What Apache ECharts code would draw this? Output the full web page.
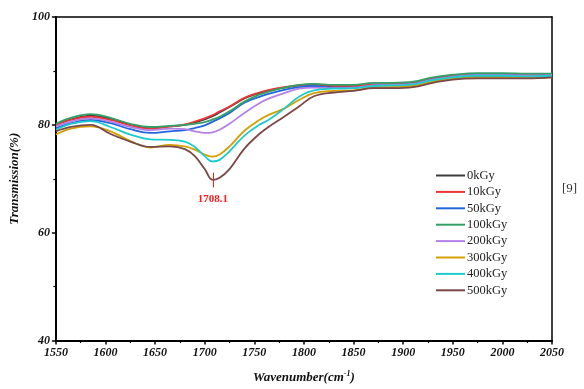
<!DOCTYPE html>
<html>
<head>
<meta charset="utf-8">
<script src="https://cdn.jsdelivr.net/npm/echarts@6/dist/echarts.min.js"></script>
<style>
  html, body { margin: 0; padding: 0; background: #fff; }
  #chart { width: 584px; height: 389px; }
</style>
</head>
<body>
<div id="chart"></div>
<script>
// wavenumber sampling points (cm-1)
const wavenumbers = [1550, 1565, 1585, 1605, 1625, 1645, 1665, 1680, 1690, 1700, 1708, 1715, 1725, 1740, 1755, 1765, 1780, 1795, 1810, 1830, 1850, 1870, 1890, 1910, 1930, 1950, 1975, 2000, 2025, 2050];

const doseNames = ['0kGy', '10kGy', '50kGy', '100kGy', '200kGy', '300kGy', '400kGy', '500kGy'];
const doseColors = ['#3c3c3c', '#ee3535', '#2266dd', '#33a066', '#b481e6', '#d49f00', '#1ccccc', '#7a4848'];

// transmission (%) per dose
const t0 = [80.0, 81.0, 81.7, 81.1, 80.0, 79.4, 79.7, 80.0, 80.4, 81.0, 81.6, 82.3, 83.3, 84.9, 85.9, 86.4, 86.9, 87.3, 87.5, 87.1, 87.1, 87.3, 87.3, 87.6, 88.4, 88.9, 89.1, 89.1, 89.0, 89.1];
const t10 = [80.0, 80.9, 81.5, 80.9, 79.9, 79.3, 79.7, 80.1, 80.6, 81.2, 81.8, 82.5, 83.4, 85.0, 86.0, 86.5, 87.0, 87.3, 87.5, 87.2, 87.2, 87.5, 87.6, 87.8, 88.6, 89.1, 89.3, 89.3, 89.2, 89.3];
const t50 = [79.4, 80.3, 80.9, 80.3, 79.2, 78.5, 78.8, 79.0, 79.4, 79.9, 80.6, 81.2, 82.2, 84.1, 85.2, 85.8, 86.5, 87.0, 87.2, 86.9, 86.9, 87.3, 87.4, 87.6, 88.4, 88.9, 89.2, 89.2, 89.1, 89.2];
const t100 = [80.2, 81.3, 82.0, 81.3, 80.2, 79.6, 79.8, 80.0, 80.2, 80.5, 81.0, 81.5, 82.5, 84.3, 85.6, 86.2, 86.9, 87.4, 87.6, 87.4, 87.4, 87.8, 87.8, 88.0, 88.8, 89.3, 89.6, 89.6, 89.5, 89.5];
const t200 = [79.7, 80.6, 81.2, 80.6, 79.6, 79.0, 79.3, 79.2, 78.8, 78.5, 78.6, 79.1, 80.2, 82.2, 84.0, 84.9, 85.9, 86.7, 86.9, 86.8, 86.9, 87.3, 87.4, 87.6, 88.4, 88.9, 89.2, 89.2, 89.1, 89.2];
const t300 = [78.2, 79.3, 79.7, 78.8, 77.0, 75.8, 76.3, 76.0, 75.4, 74.5, 74.1, 74.5, 76.0, 78.9, 80.9, 81.9, 83.0, 84.6, 85.9, 86.3, 86.4, 86.9, 87.0, 87.2, 88.0, 88.6, 88.8, 88.8, 88.7, 88.8];
const t400 = [79.1, 80.2, 80.7, 79.6, 78.2, 77.3, 77.2, 76.9, 75.9, 74.2, 73.2, 73.5, 75.1, 78.0, 80.0, 81.0, 83.0, 85.2, 86.4, 86.7, 86.8, 87.2, 87.3, 87.5, 88.3, 88.8, 89.1, 89.1, 89.0, 89.1];
const t500 = [78.8, 79.6, 80.0, 78.3, 76.9, 75.9, 76.0, 75.5, 74.2, 71.8, 69.8, 70.2, 71.8, 75.6, 78.3, 79.7, 81.5, 83.4, 85.3, 86.0, 86.3, 86.8, 86.8, 87.0, 87.8, 88.4, 88.6, 88.6, 88.6, 88.8];
const doseSeries = [t0, t10, t50, t100, t200, t300, t400, t500];

// axis ticks
const xMin = 1550, xMax = 2050, xStep = 50;
const yMin = 40, yMax = 100, yStep = 20;

// annotated peak
const peakWavenumber = 1708.1;
const peakLabel = '1708.1';

const serif = '"Liberation Serif", "Times New Roman", serif';

let chart = echarts.init(document.getElementById('chart'), null, { renderer: 'canvas' });

let series = doseSeries.map((vals, i) => {
    let s = {
        name: doseNames[i],
        type: 'line',
        data: wavenumbers.map((w, j) => [w, vals[j]]),
        smooth: 0.4,
        showSymbol: false,
        lineStyle: { width: 1.8, color: doseColors[i] },
        itemStyle: { color: doseColors[i] },
        z: 2
    };
    if (i === 7) {
        s.markLine = {
            silent: true,
            symbol: 'none',
            animation: false,
            lineStyle: { color: '#ff1a1a', width: 1, type: 'solid' },
            label: {
                show: true,
                position: 'end',
                formatter: peakLabel,
                color: '#ff1a1a',
                fontFamily: serif,
                fontWeight: 'bold',
                fontSize: 11,
                distance: 6
            },
            data: [[{ coord: [peakWavenumber, 71.1] }, { coord: [peakWavenumber, 68.4] }]]
        };
    }
    return s;
});

chart.setOption({
    animation: false,
    grid: { left: 54, right: 32, top: 17, bottom: 43 },
    legend: {
        orient: 'vertical',
        left: 431,
        top: 164,
        itemWidth: 29,
        itemHeight: 2,
        itemGap: 3.4,
        icon: 'rect',
        data: doseNames,
        textStyle: { fontFamily: serif, fontSize: 12.5, color: '#222', padding: [0, 0, 0, -3], lineHeight: 12 }
    },
    xAxis: [
        {
            type: 'value',
            min: xMin,
            max: xMax,
            interval: xStep,
            position: 'bottom',
            name: 'Wavenumber(cm{sup|-1})',
            nameLocation: 'middle',
            nameGap: 29,
            nameTextStyle: {
                fontFamily: serif, fontSize: 13, fontWeight: 'bold', fontStyle: 'italic', color: '#111',
                rich: { sup: { fontFamily: serif, fontSize: 8, fontWeight: 'bold', fontStyle: 'italic', verticalAlign: 'top', padding: [0, 0, 8, 0], color: '#111' } }
            },
            axisLine: { show: true, onZero: false, lineStyle: { color: '#000', width: 2 } },
            axisTick: { show: true, inside: false, length: 4, lineStyle: { color: '#000', width: 1.5 } },
            minorTick: { show: true, splitNumber: 2, length: 2.5, lineStyle: { color: '#000', width: 1.2 } },
            axisLabel: { margin: 6, formatter: v => String(v), fontFamily: serif, fontSize: 12, fontWeight: 'bold', fontStyle: 'italic', color: '#111' },
            splitLine: { show: false }
        },
        {
            type: 'value',
            min: xMin,
            max: xMax,
            position: 'top',
            axisLine: { show: true, onZero: false, lineStyle: { color: '#000', width: 1.5 } },
            axisTick: { show: false },
            axisLabel: { show: false },
            splitLine: { show: false }
        }
    ],
    yAxis: [
        {
            type: 'value',
            min: yMin,
            max: yMax,
            interval: yStep,
            position: 'left',
            name: 'Transmission(%)',
            nameLocation: 'middle',
            nameGap: 27,
            nameTextStyle: { fontFamily: serif, fontSize: 13, fontWeight: 'bold', fontStyle: 'italic', color: '#111' },
            axisLine: { show: true, onZero: false, lineStyle: { color: '#000', width: 2 } },
            axisTick: { show: true, inside: false, length: 4, lineStyle: { color: '#000', width: 1.5 } },
            minorTick: { show: true, splitNumber: 2, length: 2.5, lineStyle: { color: '#000', width: 1.2 } },
            axisLabel: { margin: 6, fontFamily: serif, fontSize: 12, fontWeight: 'bold', fontStyle: 'italic', color: '#111' },
            splitLine: { show: false }
        },
        {
            type: 'value',
            min: yMin,
            max: yMax,
            position: 'right',
            axisLine: { show: true, onZero: false, lineStyle: { color: '#000', width: 1.5 } },
            axisTick: { show: false },
            axisLabel: { show: false },
            splitLine: { show: false }
        }
    ],
    graphic: [
        {
            type: 'text',
            left: 562,
            top: 182,
            style: { text: '[9]', fontFamily: serif, fontSize: 13, fill: '#333' }
        }
    ],
    series: series
});
</script>
</body>
</html>
